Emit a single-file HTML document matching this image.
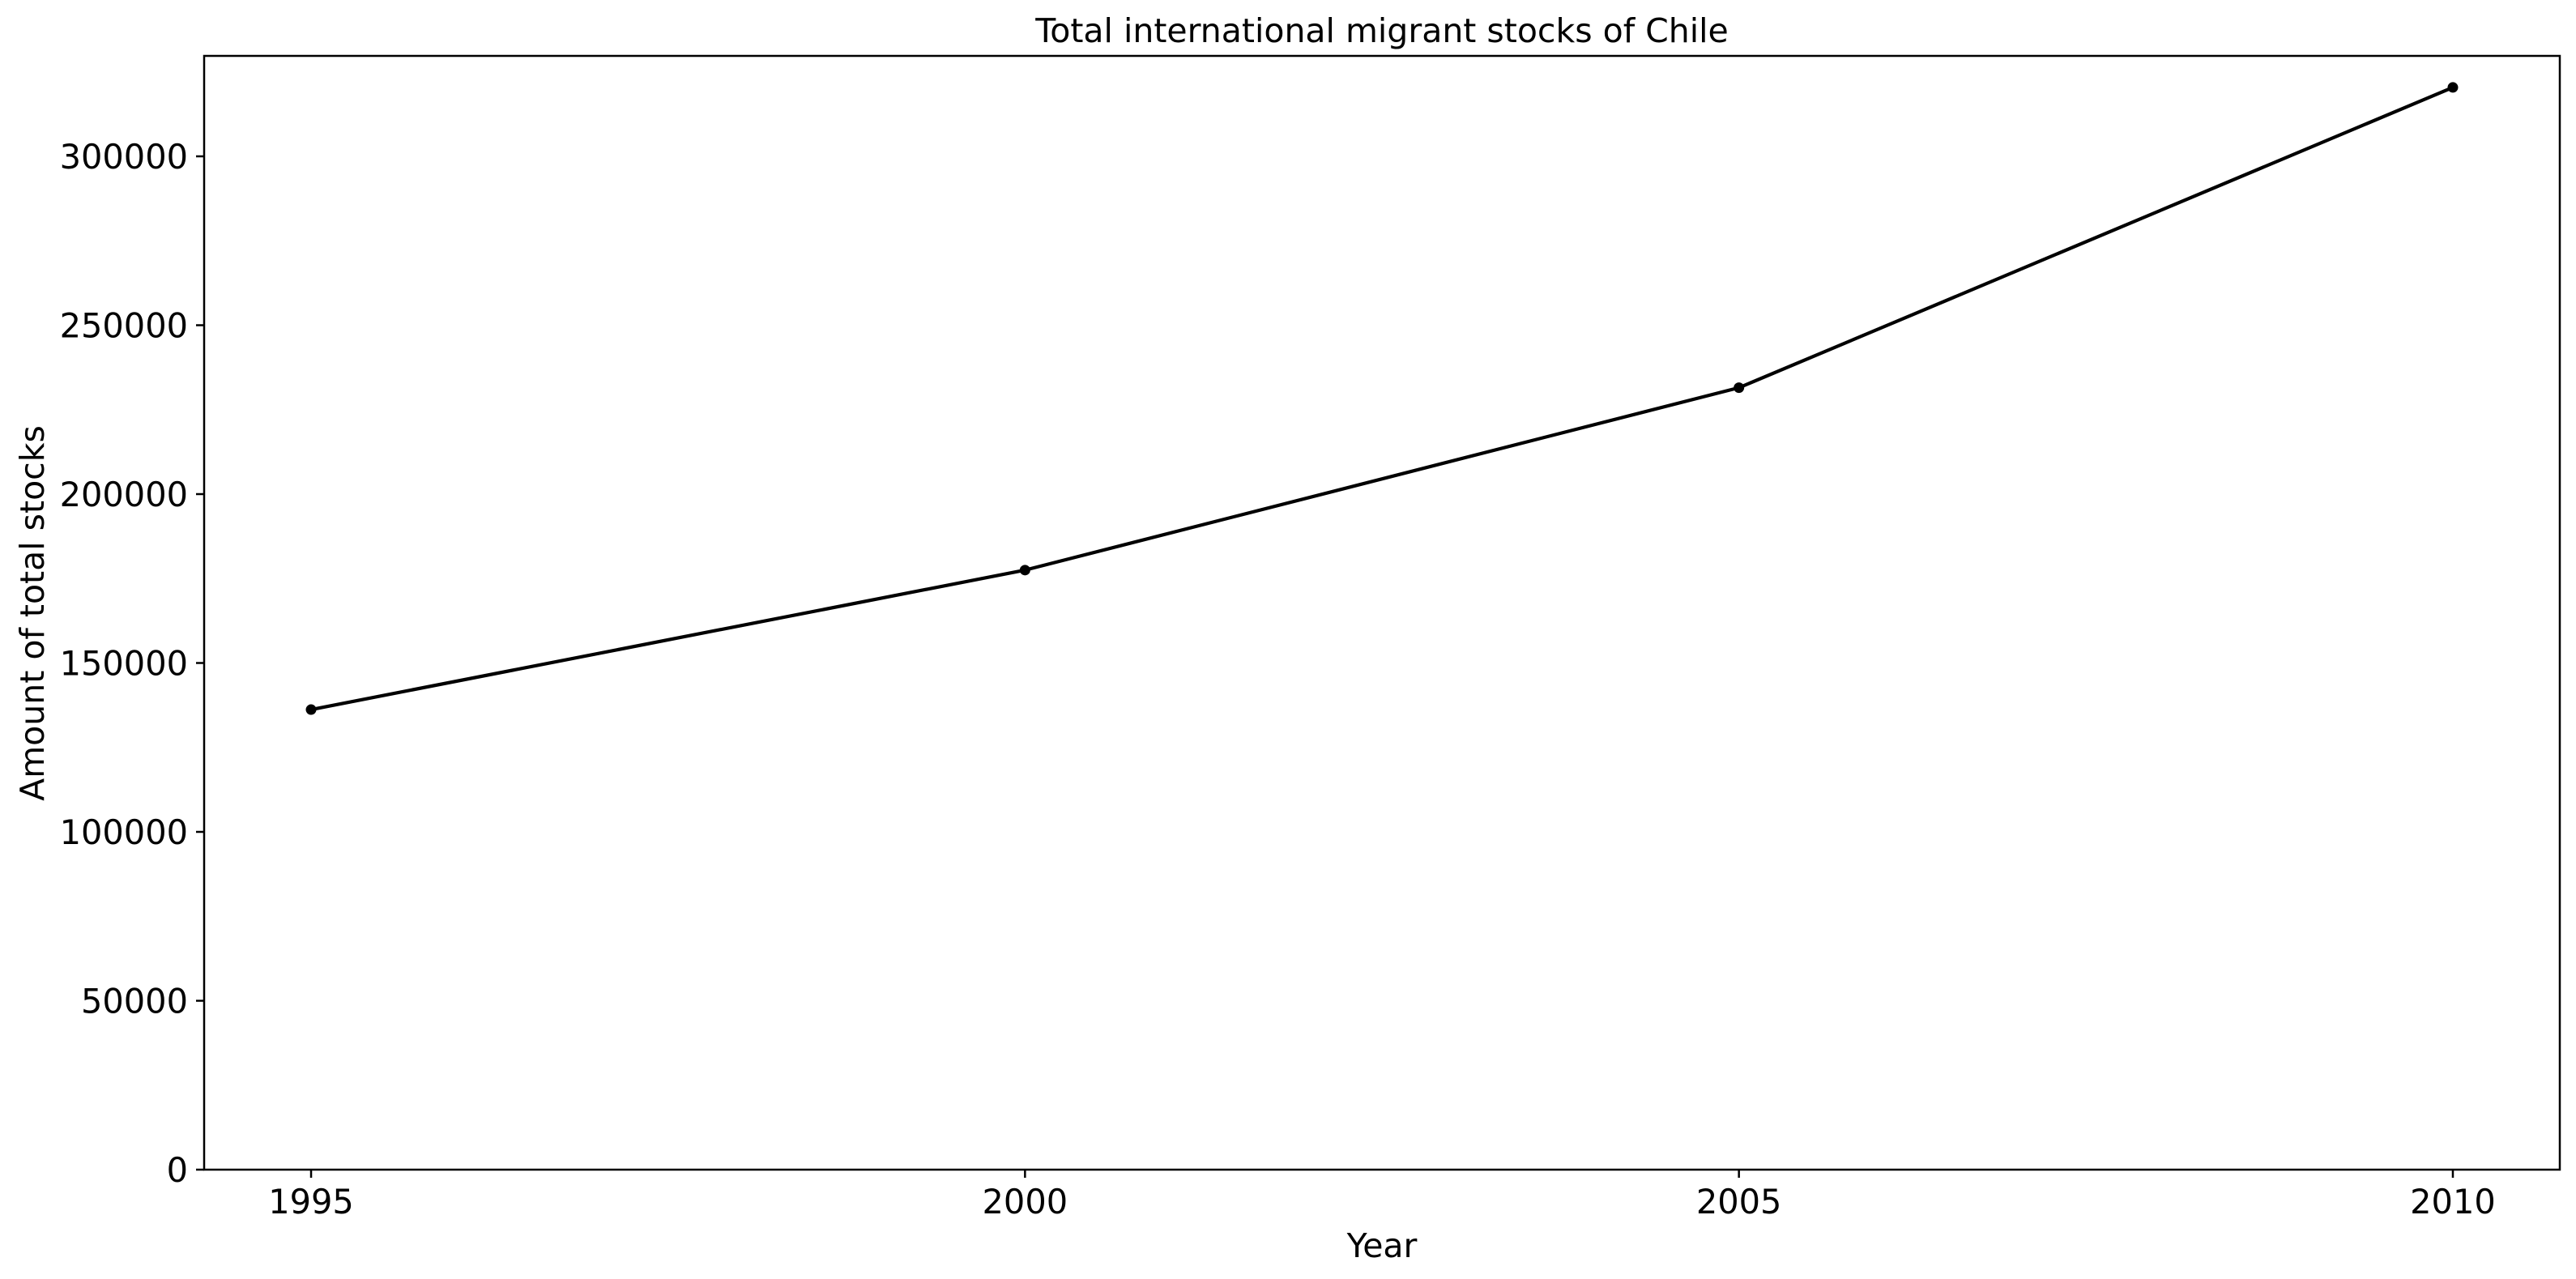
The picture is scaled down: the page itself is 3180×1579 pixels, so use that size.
<!DOCTYPE html>
<html><head><meta charset="utf-8"><style>
html,body{margin:0;padding:0;background:#fff;}
svg{display:block;font-family:"DejaVu Sans","Liberation Sans",sans-serif;}
</style></head><body>
<svg id="chart" width="3180" height="1579" viewBox="0 0 3180 1579" xmlns="http://www.w3.org/2000/svg">
<text x="1706" y="52" font-size="41" text-anchor="middle">Total international migrant stocks of Chile</text>
<text x="1706" y="1552" font-size="41" text-anchor="middle">Year</text>
<text transform="translate(54,757) rotate(-90)" font-size="41" text-anchor="middle">Amount of total stocks</text>
<g id="yticks"></g>
<g id="xticks"></g>
<g id="series"></g>
<rect x="252" y="69" width="2908" height="1375" fill="none" stroke="#000" stroke-width="2.5"/>
</svg>
<script>
const years = [1995, 2000, 2005, 2010];
const stocks = [136200, 177500, 231500, 320400];
const yTicks = [0, 50000, 100000, 150000, 200000, 250000, 300000];
const xTicks = [1995, 2000, 2005, 2010];

const NS = "http://www.w3.org/2000/svg";
const L = 252, R = 3160, T = 69, B = 1444;
const xMin = 1995 - 0.749, xMax = 2010 + 0.749;
const yMax = 300000 * 1375 / 1251;
function sx(v){ return L + (v - xMin) / (xMax - xMin) * (R - L); }
function sy(v){ return B - v / yMax * (B - T); }
function mk(tag, attrs, parent){
  const e = document.createElementNS(NS, tag);
  for (const k in attrs) e.setAttribute(k, attrs[k]);
  parent.appendChild(e);
  return e;
}
const yg = document.getElementById('yticks');
yTicks.forEach(v => {
  const y = sy(v);
  const t = mk('line', {x1: L - 10, x2: L, y1: y, y2: y, stroke: '#000', 'stroke-width': 2.5}, yg);
  
  
  const lb = mk('text', {x: L - 20, y: y + 15, 'font-size': 41.5, 'text-anchor': 'end'}, yg);
  lb.textContent = v;
  
  
});
const xg = document.getElementById('xticks');
xTicks.forEach(v => {
  const x = sx(v);
  const t = mk('line', {x1: x, x2: x, y1: B, y2: B + 10, stroke: '#000', 'stroke-width': 2.5}, xg);
  
  
  const lb = mk('text', {x: x, y: 1498, 'font-size': 41.5, 'text-anchor': 'middle'}, xg);
  lb.textContent = v;
  
  
});
const sg = document.getElementById('series');
const pts = years.map((y, i) => sx(y) + ',' + sy(stocks[i])).join(' ');
const pl = mk('polyline', {points: pts, fill: 'none', stroke: '#000', 'stroke-width': 4.2, 'stroke-linejoin': 'round'}, sg);


years.forEach((y, i) => {
  const c = mk('circle', {cx: sx(y), cy: sy(stocks[i]), r: 6.5, fill: '#000'}, sg);
  
  
});
</script>
</body></html>
